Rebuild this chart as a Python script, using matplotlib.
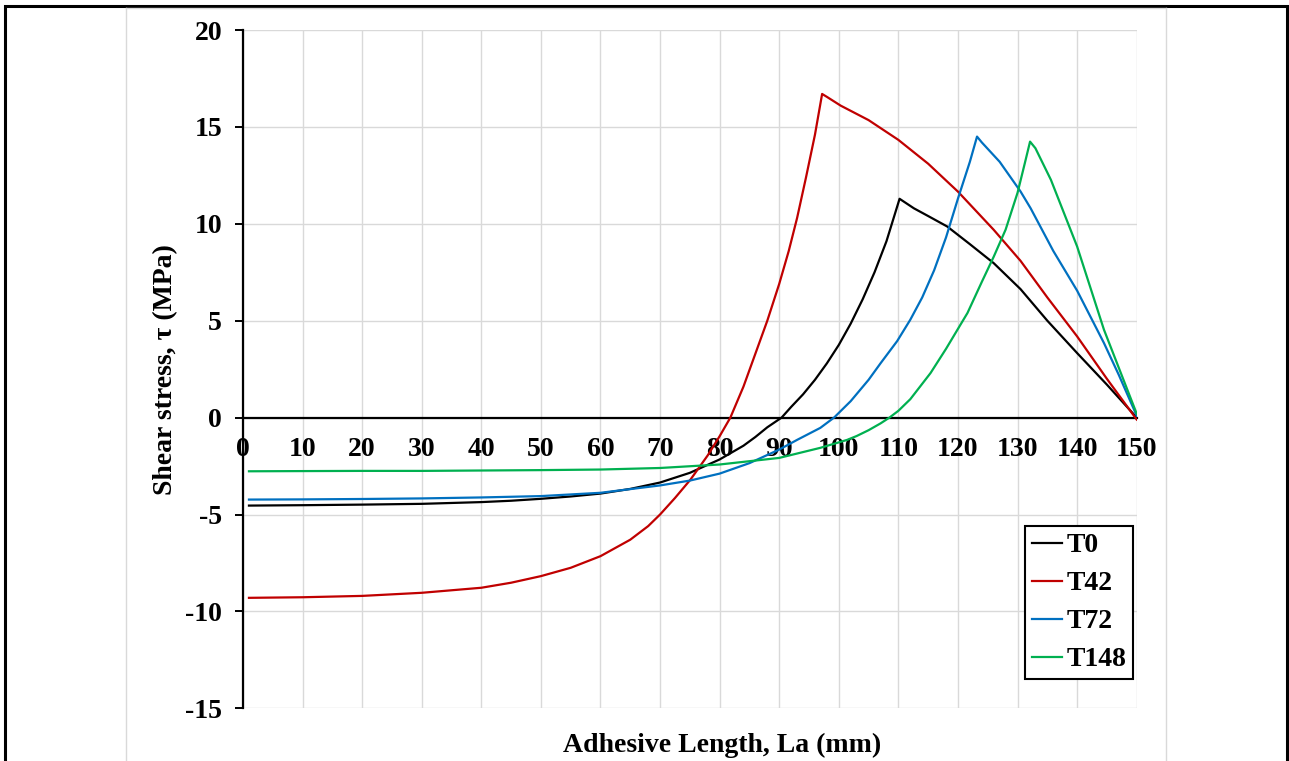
import matplotlib
matplotlib.use("Agg")
import matplotlib.pyplot as plt
from matplotlib.lines import Line2D
from matplotlib.patches import Rectangle

plt.rcParams['font.family'] = ['Liberation Serif', 'DejaVu Serif']
plt.rcParams['font.weight'] = 'bold'

# ---- data ----
t0_x = [1, 10, 20, 30, 40, 45, 50, 55, 60, 65, 70, 75, 80, 84, 86, 88, 90.4, 92, 94, 96, 98, 100,
        102, 104, 106, 108, 110.2, 112.6, 115, 118.2, 122, 126, 130.5, 135, 140, 145, 150]
t0_y = [-4.54, -4.52, -4.49, -4.45, -4.36, -4.29, -4.19, -4.07, -3.92, -3.68, -3.35, -2.85, -2.16, -1.45,
        -1.0, -0.5, 0, 0.55, 1.2, 1.95, 2.8, 3.75, 4.85, 6.1, 7.5, 9.1, 11.29, 10.8, 10.4, 9.86,
        8.95, 7.97, 6.63, 5.0, 3.33, 1.7, 0.0]

t42_x = [1, 10, 20, 30, 40, 45, 50, 55, 60, 65, 68, 70, 72.5, 75.1, 78, 80, 81.8, 84, 86, 88, 90, 91.6,
         93, 94.5, 96, 97.2, 98, 100.3, 105, 110, 115, 120, 126, 130.5, 135, 140, 145, 150]
t42_y = [-9.3, -9.27, -9.2, -9.04, -8.78, -8.52, -8.18, -7.75, -7.15, -6.3, -5.6, -5.0, -4.15, -3.2, -1.95,
         -0.96, 0, 1.6, 3.3, 5.0, 6.9, 8.6, 10.3, 12.4, 14.6, 16.7, 16.55, 16.1, 15.35, 14.33, 13.1, 11.66,
         9.69, 8.09, 6.2, 4.19, 2.0, -0.1]

t72_x = [1, 10, 20, 30, 40, 50, 60, 70, 75, 80, 85, 90, 93, 96.9, 99.2, 102, 105, 107, 109.8, 112,
         114, 116, 118, 120, 122, 123.2, 124, 127, 130.5, 132.2, 136, 140, 144.5, 147, 150]
t72_y = [-4.23, -4.22, -4.2, -4.17, -4.12, -4.05, -3.88, -3.5, -3.25, -2.89, -2.35, -1.65, -1.15, -0.53, 0,
         0.85, 1.95, 2.8, 3.95, 5.05, 6.2, 7.6, 9.3, 11.3, 13.2, 14.5, 14.2, 13.2, 11.67, 10.8, 8.6, 6.55,
         3.85, 2.2, 0.1]

t148_x = [1, 10, 20, 30, 40, 50, 60, 70, 80, 90, 96.9, 101.4, 103, 105, 107, 108.5, 110, 112, 115.4,
          118, 121.6, 124, 126, 128, 130, 131.2, 132.1, 133, 135.6, 140, 144.5, 150]
t148_y = [-2.77, -2.76, -2.75, -2.75, -2.73, -2.71, -2.68, -2.6, -2.42, -2.08, -1.56, -1.15, -0.95, -0.65,
          -0.3, 0, 0.35, 0.95, 2.3, 3.55, 5.4, 7.0, 8.3, 9.7, 11.6, 13.1, 14.24, 13.9, 12.27, 8.83, 4.54, 0.2]

labels = ['T0', 'T42', 'T72', 'T148']
colors = ['#000000', '#C00000', '#0070C0', '#00B050']
x_ticks = list(range(0, 151, 10))
y_ticks = list(range(-15, 21, 5))

# ---- figure ----
W, H = 1289, 761
fig = plt.figure(figsize=(W / 100, H / 100), dpi=100)
fig.patch.set_facecolor('white')

# outer frames
fig.add_artist(Rectangle((5 / W, -0.05), (1287 - 5) / W, 1.05 - 6 / H, transform=fig.transFigure,
                         fill=False, edgecolor='black', linewidth=2.2))
fig.add_artist(Line2D([125.7 / W, 125.7 / W], [0, 1 - 7.5 / H], transform=fig.transFigure,
                      color='#d9d9d9', linewidth=1.0))
fig.add_artist(Line2D([1166 / W, 1166 / W], [0, 1 - 7.5 / H], transform=fig.transFigure,
                      color='#d9d9d9', linewidth=1.0))
fig.add_artist(Line2D([125.7 / W, 1166 / W], [1 - 7.5 / H, 1 - 7.5 / H], transform=fig.transFigure,
                      color='#d9d9d9', linewidth=1.0))

left, right, top, bottom = 243 / W, 1136.7 / W, 1 - 30 / H, 1 - 708.3 / H
ax = fig.add_axes([left, bottom, right - left, top - bottom])
ax.set_facecolor('none')

series = [(t0_x, t0_y), (t42_x, t42_y), (t72_x, t72_y), (t148_x, t148_y)]
for (xs, ys), lab, c in zip(series, labels, colors):
    ax.plot(xs, ys, color=c, linewidth=1.6, label=lab, zorder=3)

ax.set_xlim(0, 150)
ax.set_ylim(-15, 20)
ax.set_xticks(x_ticks)
ax.set_yticks(y_ticks)
ax.set_xticklabels([str(v) for v in x_ticks])
ax.set_yticklabels([str(v) for v in y_ticks])

ax.grid(True, color='#d9d9d9', linewidth=1.0, zorder=0)
ax.set_axisbelow(True)

for s in ['top', 'right']:
    ax.spines[s].set_visible(False)
ax.spines['bottom'].set_position(('data', 0))
ax.spines['bottom'].set_linewidth(1.6)
ax.spines['left'].set_linewidth(1.6)
ax.spines['bottom'].set_zorder(2.5)

FS = 20
ax.tick_params(axis='x', length=0, pad=14, labelsize=FS)
ax.tick_params(axis='y', length=6, width=1.4, direction='out', pad=9, labelsize=FS)
for lbl in ax.get_xticklabels() + ax.get_yticklabels():
    lbl.set_fontweight('bold')

fig.text(166 / W, 1 - 370 / H, 'Shear stress, τ (MPa)', rotation=90, ha='center', va='center',
         fontsize=FS, fontweight='bold')
fig.text(722 / W, 1 - 745 / H, 'Adhesive Length, La (mm)', ha='center', va='center',
         fontsize=FS, fontweight='bold')

leg = ax.legend(loc='upper right', bbox_to_anchor=(1133.3 / W, 1 - 526 / H),
                bbox_transform=fig.transFigure, prop={'weight': 'bold', 'size': FS},
                frameon=True, fancybox=False, shadow=False, handlelength=1.1,
                handletextpad=0.15, labelspacing=0.45, borderpad=0.25, borderaxespad=0)
leg.get_frame().set_edgecolor('black')
leg.get_frame().set_linewidth(1.5)
leg.get_frame().set_alpha(1)

fig.savefig('out.png', dpi=100, facecolor='white')
